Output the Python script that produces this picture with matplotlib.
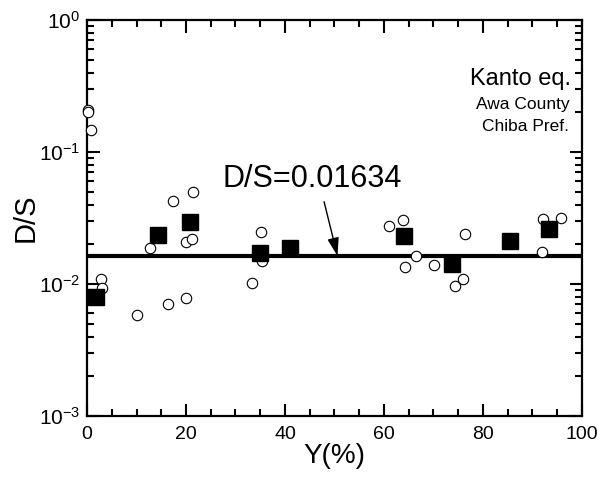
import matplotlib
matplotlib.use("Agg")
import matplotlib.pyplot as plt
import numpy as np
from matplotlib.ticker import LogLocator, FixedLocator, MultipleLocator, NullFormatter

plt.rcParams['font.family'] = ['Liberation Sans', 'DejaVu Sans']
plt.rcParams['mathtext.fontset'] = 'custom'
plt.rcParams['mathtext.rm'] = 'Liberation Sans'
plt.rcParams['mathtext.it'] = 'Liberation Sans'

#### DATA
circle_x = [0.1, 0.2, 0.75, 2.8, 3.0, 10.2, 12.7, 16.4, 17.3, 19.9, 19.9, 21.3, 21.5,
            33.3, 35.2, 35.3, 61.0, 63.8, 64.2, 66.4, 70.2, 74.4, 76.0, 76.4,
            91.9, 92.1, 95.8]
circle_y = [0.208, 0.200, 0.147, 0.0109, 0.0094, 0.0058, 0.0186, 0.0071, 0.0425, 0.0078,
            0.0209, 0.0220, 0.050, 0.0101, 0.0249, 0.0149, 0.0277, 0.0305, 0.0135,
            0.0164, 0.0139, 0.0097, 0.0110, 0.0239, 0.0174, 0.0309, 0.0315]

square_x = [1.8, 14.4, 20.9, 34.9, 41.1, 64.0, 73.7, 85.5, 93.4]
square_y = [0.0080, 0.0235, 0.0297, 0.0171, 0.0186, 0.0232, 0.0141, 0.0212, 0.0260]

ds_mean = 0.01634
y_ticks = [1e-3, 1e-2, 1e-1, 1e0]
y_labels = ['$\\mathregular{10^{-3}}$', '$\\mathregular{10^{-2}}$',
            '$\\mathregular{10^{-1}}$', '$\\mathregular{10^{0}}$']

#### PLOT
fig = plt.figure(figsize=(5.98, 4.79), dpi=100)
ax = fig.add_axes([0.1455, 0.1315, 0.8277, 0.8267])

ax.axhline(ds_mean, color='black', lw=3, zorder=2)
ax.plot(circle_x, circle_y, 'o', ms=7.5, mfc='white', mec='black', mew=0.8,
        ls='none', zorder=3, clip_on=False)
ax.plot(square_x, square_y, 's', ms=11, color='black', ls='none', zorder=4,
        clip_on=False)

ax.set_yscale('log')
ax.set_xlim(0, 100)
ax.set_ylim(1e-3, 1e0)

ax.xaxis.set_major_locator(MultipleLocator(20))
ax.xaxis.set_minor_locator(MultipleLocator(5))
ax.yaxis.set_major_locator(FixedLocator(y_ticks))
ax.set_yticklabels(y_labels)
ax.yaxis.set_minor_locator(LogLocator(base=10, subs=np.arange(2, 10)))
ax.yaxis.set_minor_formatter(NullFormatter())

ax.tick_params(which='both', direction='in', top=True, right=True, width=1.5,
               pad=7)
ax.tick_params(axis='x', labelsize=14)
ax.tick_params(axis='y', labelsize=15, pad=5)
ax.tick_params(which='major', length=9)
ax.tick_params(which='minor', length=5)
for sp in ax.spines.values():
    sp.set_linewidth(1.6)

ax.set_xlabel('Y(%)', fontsize=20, labelpad=0)
ax.set_ylabel('D/S', fontsize=21, labelpad=-1)

ax.annotate('D/S=0.01634', xy=(50.6, ds_mean), xytext=(45.5, 0.0624),
            fontsize=22, ha='center', va='center', zorder=5)
ax.annotate('', xy=(50.6, ds_mean), xytext=(47.9, 0.042),
            arrowprops=dict(arrowstyle='-|>,head_length=1.1,head_width=0.35',
                            color='black', lw=1, shrinkA=0, shrinkB=0))

ax.text(87.5, 0.36, 'Kanto eq.', fontsize=17, ha='center', va='center')
ax.text(88, 0.23, 'Awa County', fontsize=12.5, ha='center', va='center')
ax.text(88.5, 0.157, 'Chiba Pref.', fontsize=12.5, ha='center', va='center')

fig.savefig('out.png', dpi=100)
